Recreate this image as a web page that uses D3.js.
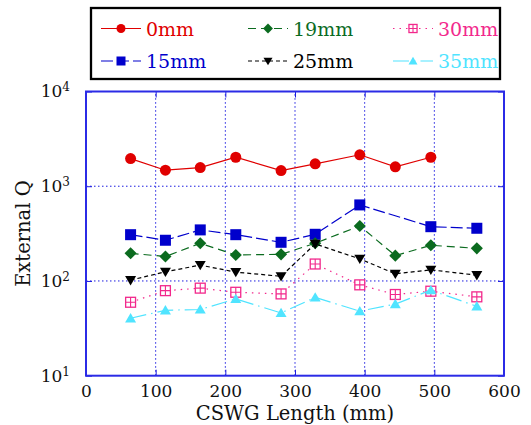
<!DOCTYPE html>
<html>
<head>
<meta charset="utf-8">
<script src="https://cdn.jsdelivr.net/npm/d3@7"></script>
<style>
  body { margin: 0; background: #fff; }
  text { font-family: "DejaVu Serif", serif; }
</style>
</head>
<body>
<svg id="chart"></svg>
<script>
// CSWG length (mm) for each measured point
const lengths = [64, 114, 164, 215, 280, 329, 393, 444, 495, 561];

// external Q per slot depth (null = no point)
const q0mm  = [1958, 1476, 1575, 2023, 1465, 1725, 2148, 1603, 2023, null];
const q15mm = [308, 269, 346, 308, 256, 311, 635, null, 374, 360];
const q19mm = [196, 181, 250, 188, 191, 250, 381, 185, 238, 221];
const q25mm = [102, 125, 147, 124, 112, 246, 171, 119, 131, 115];
const q30mm = [59.6, 79, 84, 76, 73, 151, 91, 72, 78, 68];
const q35mm = [40.4, 49, 50, 64.6, 46, 67, 48, 57, 80, 54];

const seriesNames = ["0mm", "15mm", "19mm", "25mm", "30mm", "35mm"];
const xTicks = [0, 100, 200, 300, 400, 500, 600];
const yTicks = [10, 100, 1000, 10000];

const width = 531, height = 425;
const margin = {top: 91.5, right: 27, bottom: 49.3, left: 86};

const styles = {
    "0mm":  {color: "#e00000", dash: null,           marker: "circle"},
    "15mm": {color: "#0000cc", dash: "12,4",         marker: "square"},
    "19mm": {color: "#0b6b1f", dash: "8,5",          marker: "diamond"},
    "25mm": {color: "#000000", dash: "4,3",          marker: "tridown"},
    "30mm": {color: "#f2288c", dash: "1.5,5",        marker: "boxgrid"},
    "35mm": {color: "#50e4ff", dash: "16,5,1.5,5",   marker: "triup"}
};

const allValues = [q0mm, q15mm, q19mm, q25mm, q30mm, q35mm];
const series = seriesNames.map((name, k) => ({
    name: name,
    points: lengths.map((x, i) => ({x: x, q: allValues[k][i]})).filter(d => d.q != null)
}));

const svg = d3.select("#chart").attr("width", width).attr("height", height);

const x = d3.scaleLinear().domain([0, 600]).range([margin.left, width - margin.right]);
const y = d3.scaleLog().domain([10, 10000]).range([height - margin.bottom, margin.top]);

const gridColor = "#1c1ce0";

// grid
svg.append("g").selectAll("line")
    .data(xTicks.slice(1, -1))
    .join("line")
    .attr("x1", d => x(d)).attr("x2", d => x(d))
    .attr("y1", y(10)).attr("y2", y(10000))
    .attr("stroke", gridColor).attr("stroke-width", 1)
    .attr("stroke-dasharray", "1.5,2.5");
svg.append("g").selectAll("line")
    .data(yTicks.slice(1, -1))
    .join("line")
    .attr("x1", x(0)).attr("x2", x(600))
    .attr("y1", d => y(d)).attr("y2", d => y(d))
    .attr("stroke", gridColor).attr("stroke-width", 1)
    .attr("stroke-dasharray", "1.5,2.5");

// axes
let xAxis = svg.append("g")
    .attr("transform", `translate(0, ${y(10)})`)
    .call(d3.axisBottom(x).tickValues(xTicks).tickSizeInner(-6).tickSizeOuter(0).tickPadding(9));
xAxis.select(".domain").remove();
xAxis.selectAll("line").attr("stroke", gridColor);
xAxis.selectAll("text").attr("font-size", 17).attr("fill", "#111")
    .style("font-family", "DejaVu Serif");

let xTop = svg.append("g")
    .attr("transform", `translate(0, ${y(10000)})`)
    .call(d3.axisTop(x).tickValues(xTicks).tickSizeInner(-6).tickSizeOuter(0).tickFormat(""));
xTop.select(".domain").remove();
xTop.selectAll("line").attr("stroke", gridColor);

let yAxis = svg.append("g")
    .attr("transform", `translate(${x(0)}, 0)`)
    .call(d3.axisLeft(y).tickValues(yTicks).tickSizeInner(-6).tickSizeOuter(0).tickPadding(16)
        .tickFormat(() => "10"));
yAxis.select(".domain").remove();
yAxis.selectAll("line").attr("stroke", gridColor);
yAxis.selectAll("text")
    .attr("font-size", 17).attr("fill", "#111")
    .style("font-family", "DejaVu Serif")
    .each(function(d) {
        d3.select(this).append("tspan")
            .attr("dy", "-0.5em")
            .attr("font-size", 12)
            .text(Math.round(Math.log10(d)));
    });

let yRight = svg.append("g")
    .attr("transform", `translate(${x(600)}, 0)`)
    .call(d3.axisRight(y).tickValues(yTicks).tickSizeInner(-6).tickSizeOuter(0).tickFormat(""));
yRight.select(".domain").remove();
yRight.selectAll("line").attr("stroke", gridColor);

// frame
svg.append("rect")
    .attr("x", x(0)).attr("y", y(10000))
    .attr("width", x(600) - x(0)).attr("height", y(10) - y(10000))
    .attr("fill", "none").attr("stroke", "#2b2be6").attr("stroke-width", 2);

// labels
svg.append("text")
    .attr("x", (x(0) + x(600)) / 2).attr("y", 420)
    .attr("text-anchor", "middle").attr("font-size", 19.5).attr("fill", "#111")
    .text("CSWG Length (mm)");
svg.append("text")
    .attr("transform", `translate(30, ${(y(10) + y(10000)) / 2}) rotate(-90)`)
    .attr("text-anchor", "middle").attr("font-size", 19.5).attr("fill", "#111")
    .text("External Q");

// marker drawing
function drawMarker(g, type, color, s) {
    if (type == "circle") {
        g.append("circle").attr("r", s * 0.5).attr("fill", color);
    } else if (type == "square") {
        g.append("rect").attr("x", -s / 2).attr("y", -s / 2).attr("width", s).attr("height", s).attr("fill", color);
    } else if (type == "diamond") {
        let h = s * 0.55;
        g.append("path").attr("d", `M0,${-h}L${h},0L0,${h}L${-h},0Z`).attr("fill", color);
    } else if (type == "tridown") {
        let h = s * 0.5;
        g.append("path").attr("d", `M${-h},${-h * 0.75}L${h},${-h * 0.75}L0,${h * 0.95}Z`).attr("fill", color);
    } else if (type == "triup") {
        let h = s * 0.5;
        g.append("path").attr("d", `M${-h},${h * 0.75}L${h},${h * 0.75}L0,${-h * 0.95}Z`).attr("fill", color);
    } else if (type == "boxgrid") {
        let h = s * 0.45;
        g.append("rect").attr("x", -h).attr("y", -h).attr("width", 2 * h).attr("height", 2 * h)
            .attr("fill", "#fff").attr("stroke", color).attr("stroke-width", 1.3);
        g.append("path").attr("d", `M0,${-h}V${h}M${-h},0H${h}`)
            .attr("stroke", color).attr("stroke-width", 1.1);
    }
}

const line = d3.line().x(d => x(d.x)).y(d => y(d.q));

series.forEach(s => {
    let st = styles[s.name];
    let g = svg.append("g");
    g.append("path")
        .datum(s.points)
        .attr("d", line)
        .attr("fill", "none")
        .attr("stroke", st.color)
        .attr("stroke-width", 1.2)
        .attr("stroke-dasharray", st.dash);
    g.selectAll("g.mk")
        .data(s.points)
        .join("g")
        .attr("class", "mk")
        .attr("transform", d => `translate(${x(d.x)}, ${y(d.q)})`)
        .each(function() { drawMarker(d3.select(this), st.marker, st.color, 11); });
});

// legend (column major: 0/15, 19/25, 30/35)
const legend = svg.append("g");
legend.append("rect")
    .attr("x", 91).attr("y", 8).attr("width", 409).attr("height", 71)
    .attr("fill", "#fff").attr("stroke", "#000").attr("stroke-width", 2.3);

const colX = [121, 268, 413];
const rowY = [28.5, 61];
seriesNames.forEach((name, i) => {
    let st = styles[name];
    let cx = colX[Math.floor(i / 2)];
    let cy = rowY[i % 2];
    let g = legend.append("g");
    g.append("line")
        .attr("x1", cx - 20).attr("x2", cx + 20)
        .attr("y1", cy).attr("y2", cy)
        .attr("stroke", st.color).attr("stroke-width", 1.2)
        .attr("stroke-dasharray", st.dash);
    let m = g.append("g").attr("transform", `translate(${cx}, ${cy})`);
    drawMarker(m, st.marker, st.color, 9);
    g.append("text")
        .attr("x", cx + 25).attr("y", cy + 7)
        .attr("font-size", 19).attr("fill", st.color)
        .text(name);
});
</script>
</body>
</html>
